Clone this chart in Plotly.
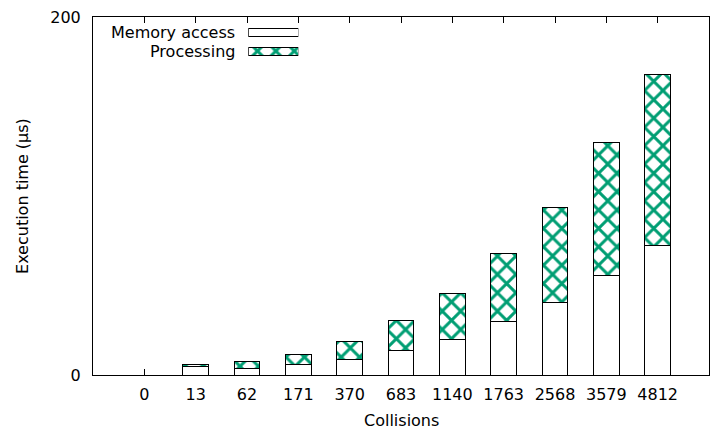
import plotly.graph_objects as go

categories = ["0", "13", "62", "171", "370", "683", "1140", "1763", "2568", "3579", "4812"]
memory_access = [0, 4.6, 3.4, 5.8, 8.5, 13.5, 19.9, 29.8, 40.5, 55.7, 72.2]
processing = [0, 1.2, 4.0, 5.4, 10.1, 16.7, 25.5, 38.0, 53.0, 74.2, 95.9]
series_names = ["Memory access", "Processing"]
y_ticks = [0, 200]
x_title = "Collisions"
y_title = "Execution time (µs)"

FONT = "DejaVu Sans"
GREEN = "#009e73"
FS = 16

pattern = dict(shape="x", fgcolor=GREEN, bgcolor="white", size=13, solidity=0.4, fgopacity=1)

fig = go.Figure()

fig.add_trace(go.Bar(
    x=categories, y=memory_access, name=series_names[0], width=0.5,
    marker=dict(color="white", line=dict(color="black", width=1)),
    showlegend=False,
))
fig.add_trace(go.Bar(
    x=categories, y=processing, name=series_names[1], width=0.5,
    marker=dict(color="white", line=dict(color="black", width=1), pattern=pattern),
    showlegend=False,
))

# legend keys (gnuplot style: text first, then sample box)
legend_rows = [series_names[1], series_names[0]]
fig.add_trace(go.Bar(
    y=[legend_rows[1]], x=[1], orientation="h", width=0.41,
    xaxis="x2", yaxis="y2", showlegend=False, hoverinfo="skip",
    marker=dict(color="white", line=dict(color="black", width=1)),
))
fig.add_trace(go.Bar(
    y=[legend_rows[0]], x=[1], orientation="h", width=0.41,
    xaxis="x2", yaxis="y2", showlegend=False, hoverinfo="skip",
    marker=dict(color="white", line=dict(color="black", width=1), pattern=pattern),
))

# the page body adds an 8px offset, so the figure is 8px smaller on each side
fig.update_layout(
    width=711, height=424,
    margin=dict(l=85, r=10, t=9, b=57, pad=0),
    barmode="stack",
    plot_bgcolor="white", paper_bgcolor="white",
    font=dict(family=FONT, size=FS, color="black"),
    xaxis=dict(
        type="category", categoryorder="array", categoryarray=categories,
        range=[-1, 11], automargin=False,
        showline=True, linecolor="black", linewidth=1,
        ticks="inside", ticklen=6, tickcolor="black", tickwidth=1,
        showgrid=False, zeroline=False, layer="below traces",
        ticklabelstandoff=5,
    ),
    xaxis3=dict(
        type="category", categoryorder="array", categoryarray=categories,
        range=[-1, 11], automargin=False, overlaying="x", side="top", anchor="y",
        matches="x",
        showline=True, linecolor="black", linewidth=1,
        ticks="inside", ticklen=6, tickcolor="black", tickwidth=1,
        showticklabels=False, showgrid=False, zeroline=False,
    ),
    yaxis=dict(
        range=[0, 200], tickvals=y_ticks, automargin=False,
        showline=True, linecolor="black", linewidth=1, mirror=True,
        ticks="inside", ticklen=6, tickcolor="black", tickwidth=1,
        showgrid=False, zeroline=False,
        ticklabelstandoff=8, ticklabeloverflow="allow",
    ),
    xaxis2=dict(domain=[0.2521, 0.3333], range=[0, 1], anchor="y2",
                visible=False, fixedrange=True),
    yaxis2=dict(domain=[0.8775, 0.982], range=[-0.5, 1.5], anchor="x2",
                type="category", categoryorder="array", categoryarray=legend_rows,
                visible=False, fixedrange=True),
    annotations=[
        dict(text=series_names[0], xref="paper", yref="paper", x=0.2333, y=0.9559,
             xanchor="right", yanchor="middle", showarrow=False),
        dict(text=series_names[1], xref="paper", yref="paper", x=0.2333, y=0.9036,
             xanchor="right", yanchor="middle", showarrow=False),
        dict(text=x_title, xref="paper", yref="paper", x=0.5, y=-0.128,
             xanchor="center", yanchor="middle", showarrow=False),
        dict(text=y_title, xref="paper", yref="paper", x=-0.1153, y=0.5,
             xanchor="center", yanchor="middle", textangle=-90, showarrow=False),
    ],
)

# invisible trace so the top axis is drawn
fig.add_trace(go.Bar(x=categories, y=[None] * len(categories), xaxis="x3", yaxis="y",
                     showlegend=False, hoverinfo="skip"))

fig.write_html("out.html")
